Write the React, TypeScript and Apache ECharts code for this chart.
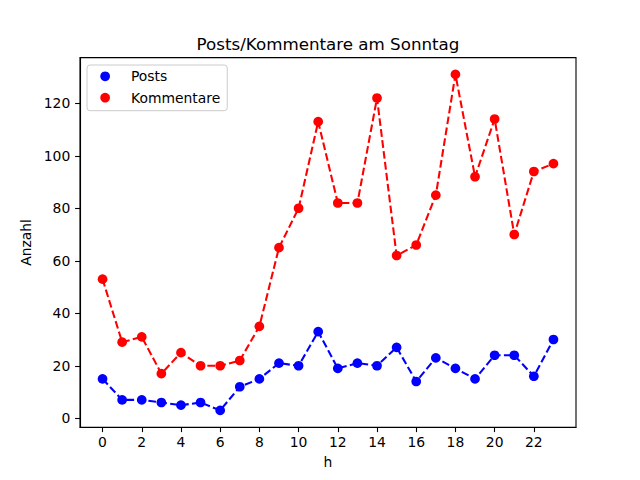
import React, { useEffect, useRef } from "react";
import * as echarts from "echarts";

const hours = [0, 1, 2, 3, 4, 5, 6, 7, 8, 9, 10, 11, 12, 13, 14, 15, 16, 17, 18, 19, 20, 21, 22, 23];
const posts = [15, 7, 7, 6, 5, 6, 3, 12, 15, 21, 20, 33, 19, 21, 20, 27, 14, 23, 19, 15, 24, 24, 16, 30];
const kommentare = [53, 29, 31, 17, 25, 20, 20, 22, 35, 65, 80, 113, 82, 82, 122, 62, 66, 85, 131, 92, 114, 70, 94, 97];
const xTicks = [0, 2, 4, 6, 8, 10, 12, 14, 16, 18, 20, 22];
const yTicks = [0, 20, 40, 60, 80, 100, 120];

const FONT = "DejaVu Sans";

export default function App() {
  const ref = useRef<HTMLDivElement>(null);
  useEffect(() => {
    if (!ref.current) return;
    const chart = echarts.init(ref.current, null, { renderer: "svg" });
    const lineCommon = (name: string, values: number[], color: string) => ({
      name,
      type: "line",
      data: hours.map((h, i) => [h, values[i]]),
      symbol: "circle",
      symbolSize: 9.7,
      showSymbol: true,
      itemStyle: { color },
      lineStyle: { color, width: 2.08, type: [7.7, 3.3] },
      emphasis: { disabled: true },
      z: 3,
    });
    chart.setOption({
      animation: false,
      textStyle: { fontFamily: FONT },
      grid: {
        left: 80,
        right: 64,
        top: 57.6,
        bottom: 52.8,
        show: true,
        borderColor: "#000",
        borderWidth: 1.1,
        backgroundColor: "#fff",
      },
      graphic: [
        {
          type: "text",
          x: 328,
          y: 43.5,
          style: {
            text: "Posts/Kommentare am Sonntag",
            fontSize: 16.7,
            fontFamily: FONT,
            fill: "#000",
            textAlign: "center",
            textVerticalAlign: "middle",
          },
        },
      ],
      legend: {
        data: ["Posts", "Kommentare"],
        orient: "vertical",
        left: 87,
        top: 65,
        icon: "circle",
        itemWidth: 9.7,
        itemHeight: 9.7,
        itemGap: 5.4,
        padding: [3.3, 7, 5, 13.3],
        backgroundColor: "rgba(255,255,255,0.8)",
        borderColor: "#cccccc",
        borderWidth: 1,
        borderRadius: 3,
        textStyle: {
          fontFamily: FONT,
          fontSize: 13.9,
          color: "#000",
          lineHeight: 16,
          padding: [0, 0, 0, 16],
        },
      },
      xAxis: {
        type: "value",
        min: -1.15,
        max: 24.15,
        name: "h",
        nameLocation: "middle",
        nameGap: 28,
        nameTextStyle: { fontFamily: FONT, fontSize: 13.9, color: "#000" },
        axisLine: { show: true, onZero: false, lineStyle: { color: "#000", width: 1.1 } },
        axisTick: { show: true, length: 4.9, lineStyle: { color: "#000", width: 1.1 }, customValues: xTicks },
        axisLabel: { fontFamily: FONT, fontSize: 13.9, color: "#000", margin: 8, customValues: xTicks },
        splitLine: { show: false },
      },
      yAxis: {
        type: "value",
        min: -3.4,
        max: 137.4,
        name: "Anzahl",
        nameLocation: "middle",
        nameGap: 40,
        nameTextStyle: { fontFamily: FONT, fontSize: 13.9, color: "#000" },
        axisLine: { show: true, onZero: false, lineStyle: { color: "#000", width: 1.1 } },
        axisTick: { show: true, length: 4.9, lineStyle: { color: "#000", width: 1.1 }, customValues: yTicks },
        axisLabel: { fontFamily: FONT, fontSize: 13.9, color: "#000", margin: 9.7, customValues: yTicks },
        splitLine: { show: false },
      },
      series: [lineCommon("Posts", posts, "#0000ff"), lineCommon("Kommentare", kommentare, "#ff0000")],
    });
    return () => chart.dispose();
  }, []);
  return (
    <div
      ref={ref}
      style={{ position: "fixed", left: 0, top: 0, width: 640, height: 480, background: "#fff" }}
    />
  );
}
